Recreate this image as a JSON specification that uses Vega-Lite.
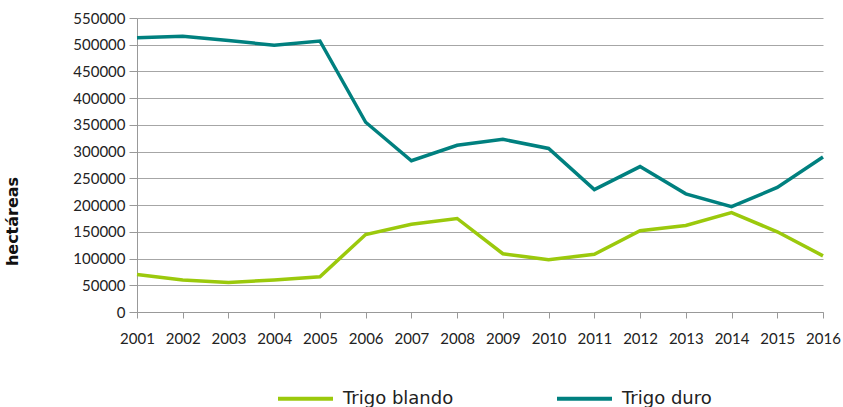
{
  "$schema": "https://vega.github.io/schema/vega-lite/v6.json",
  "width": 686,
  "height": 294,
  "autosize": "none",
  "padding": {"left": 137, "top": 18, "right": 20, "bottom": 95},
  "background": "white",
  "config": {
    "view": {"stroke": null},
    "font": "Lato",
    "axis": {"labelFont": "Lato", "titleFont": "DejaVu Sans"},
    "legend": {"labelFont": "DejaVu Sans"}
  },
  "data": {
    "values": [
      {"year": "2001", "serie": "Trigo blando", "ha": 70000},
      {"year": "2002", "serie": "Trigo blando", "ha": 60000},
      {"year": "2003", "serie": "Trigo blando", "ha": 55000},
      {"year": "2004", "serie": "Trigo blando", "ha": 60000},
      {"year": "2005", "serie": "Trigo blando", "ha": 66000},
      {"year": "2006", "serie": "Trigo blando", "ha": 145000},
      {"year": "2007", "serie": "Trigo blando", "ha": 164000},
      {"year": "2008", "serie": "Trigo blando", "ha": 175000},
      {"year": "2009", "serie": "Trigo blando", "ha": 109000},
      {"year": "2010", "serie": "Trigo blando", "ha": 98000},
      {"year": "2011", "serie": "Trigo blando", "ha": 108000},
      {"year": "2012", "serie": "Trigo blando", "ha": 152000},
      {"year": "2013", "serie": "Trigo blando", "ha": 162000},
      {"year": "2014", "serie": "Trigo blando", "ha": 186000},
      {"year": "2015", "serie": "Trigo blando", "ha": 150000},
      {"year": "2016", "serie": "Trigo blando", "ha": 105000},
      {"year": "2001", "serie": "Trigo duro", "ha": 513000},
      {"year": "2002", "serie": "Trigo duro", "ha": 516000},
      {"year": "2003", "serie": "Trigo duro", "ha": 508000},
      {"year": "2004", "serie": "Trigo duro", "ha": 499000},
      {"year": "2005", "serie": "Trigo duro", "ha": 507000},
      {"year": "2006", "serie": "Trigo duro", "ha": 355000},
      {"year": "2007", "serie": "Trigo duro", "ha": 283000},
      {"year": "2008", "serie": "Trigo duro", "ha": 312000},
      {"year": "2009", "serie": "Trigo duro", "ha": 323000},
      {"year": "2010", "serie": "Trigo duro", "ha": 306000},
      {"year": "2011", "serie": "Trigo duro", "ha": 229000},
      {"year": "2012", "serie": "Trigo duro", "ha": 272000},
      {"year": "2013", "serie": "Trigo duro", "ha": 221000},
      {"year": "2014", "serie": "Trigo duro", "ha": 197000},
      {"year": "2015", "serie": "Trigo duro", "ha": 233000},
      {"year": "2016", "serie": "Trigo duro", "ha": 290000}
    ]
  },
  "mark": {"type": "line", "strokeWidth": 3.5, "strokeJoin": "miter"},
  "encoding": {
    "x": {
      "field": "year",
      "type": "ordinal",
      "scale": {"type": "point", "padding": 0},
      "axis": {
        "title": null,
        "labelAngle": 0,
        "labelFontSize": 15,
        "labelColor": "#222",
        "labelPadding": 13,
        "tickSize": 6,
        "tickColor": "#999",
        "domainColor": "#999",
        "grid": false
      }
    },
    "y": {
      "field": "ha",
      "type": "quantitative",
      "scale": {"domain": [0, 550000], "nice": false},
      "axis": {
        "title": "hectáreas",
        "titleFontSize": 16,
        "titleFontWeight": "bold",
        "titleColor": "#111",
        "titleX": -117,
        "titleY": 203,
        "values": [0, 50000, 100000, 150000, 200000, 250000, 300000, 350000, 400000, 450000, 500000, 550000],
        "format": "d",
        "labelFontSize": 15,
        "labelColor": "#222",
        "labelPadding": 4,
        "tickSize": 8,
        "tickColor": "#999",
        "domainColor": "#999",
        "grid": true,
        "gridColor": "#A6A6A6"
      }
    },
    "color": {
      "field": "serie",
      "type": "nominal",
      "scale": {"domain": ["Trigo blando", "Trigo duro"], "range": ["#9BC90C", "#00807F"]},
      "legend": {
        "title": null,
        "orient": "none",
        "direction": "horizontal",
        "legendX": 139,
        "legendY": 351,
        "symbolType": "stroke",
        "symbolSize": 3025,
        "symbolStrokeWidth": 4,
        "labelFontSize": 18,
        "labelColor": "#222",
        "labelOffset": 8,
        "columnPadding": 95
      }
    }
  }
}
